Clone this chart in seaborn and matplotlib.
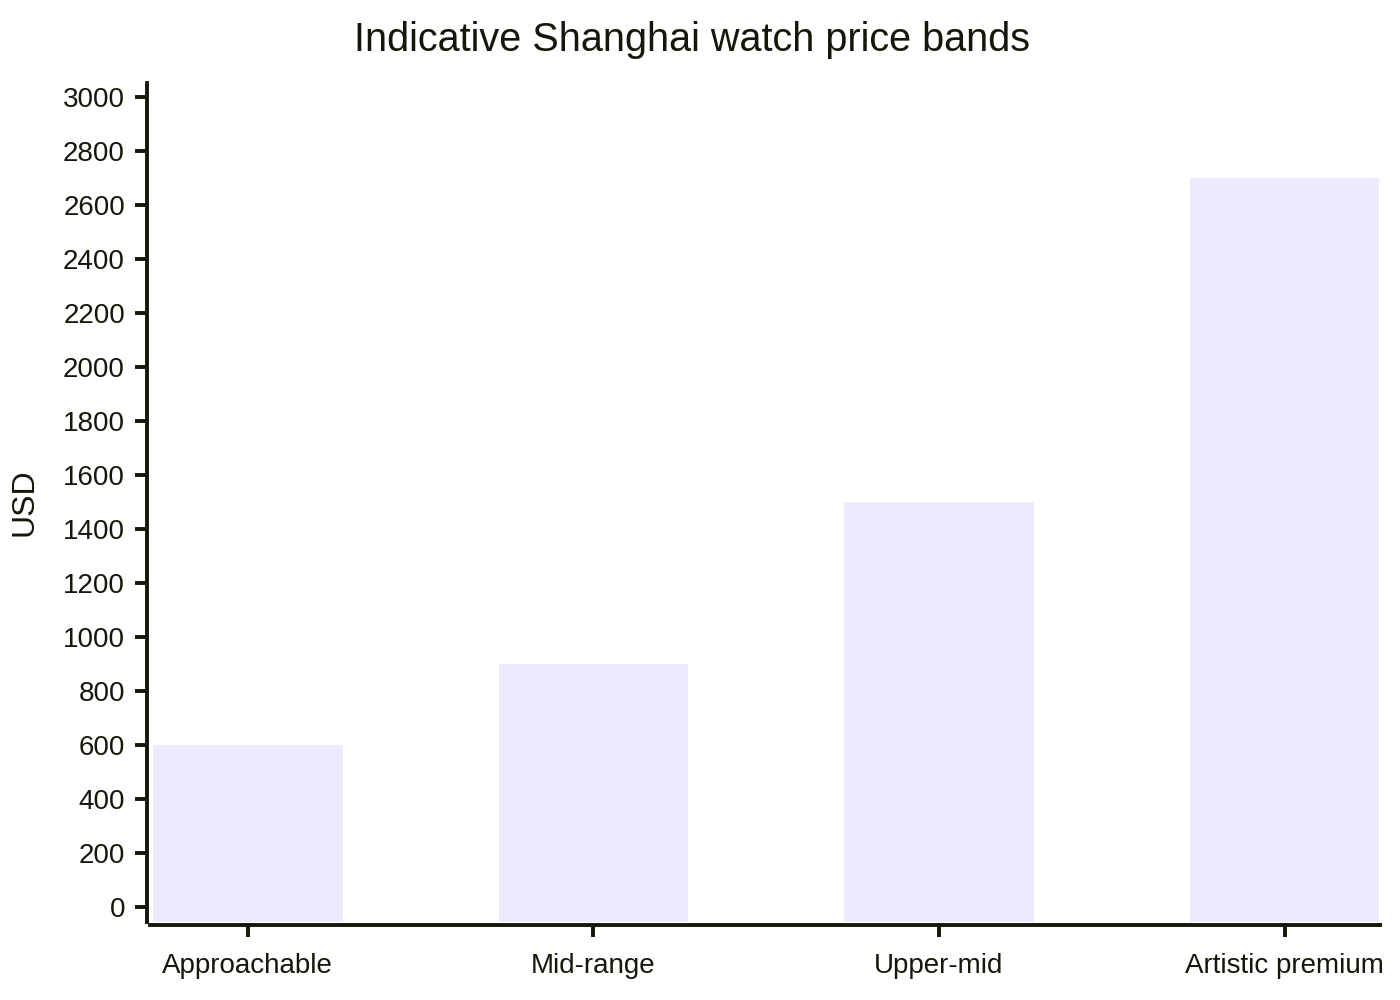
import matplotlib
matplotlib.use("Agg")
import matplotlib.pyplot as plt
import seaborn as sns
import pandas as pd
import numpy as np

categories = ["Approachable", "Mid-range", "Upper-mid", "Artistic premium"]
usd_values = [600, 900, 1500, 2700]
y_ticks = list(range(0, 3001, 200))

sns.set_theme(style="ticks")
plt.rcParams["font.family"] = ["Liberation Sans", "DejaVu Sans"]

ink = "#16160a"
bar_color = "#ECEAFD"

df = pd.DataFrame({"band": categories, "usd": usd_values})

fig = plt.figure(figsize=(14, 10), dpi=100)
ax = fig.add_axes([150 / 1400, 78 / 1000, 1230 / 1400, 839 / 1000])

sns.barplot(data=df, x="band", y="usd", color=bar_color, saturation=1,
            width=0.548, ax=ax, edgecolor="none", linewidth=0)

ymin, ymax = -55, 3052
ax.set_ylim(ymin, ymax)
ax.set_xlim(-0.283, 3.276)
# bars extend down to the bottom of the plot area
for p in ax.patches:
    top = p.get_y() + p.get_height()
    p.set_y(ymin)
    p.set_height(top - ymin)

ax.set_yticks(y_ticks)
ax.set_yticklabels([str(t) for t in y_ticks])
ax.set_xlabel("")
ax.set_ylabel("USD", fontsize=23, color=ink, labelpad=17)

sns.despine(ax=ax)
for side in ["left", "bottom"]:
    ax.spines[side].set_color(ink)
    ax.spines[side].set_linewidth(2.8)
    ax.spines[side].set_position(("outward", 2.5))

ax.tick_params(axis="both", colors=ink, labelcolor=ink, labelsize=20,
               width=2.8, length=8.5)
ax.tick_params(axis="y", pad=7)
ax.tick_params(axis="x", pad=11)

fig.text(692 / 1400, 0.960, "Indicative Shanghai watch price bands",
         ha="center", va="center", fontsize=28.5, color=ink)

fig.savefig("out.png", dpi=100)
